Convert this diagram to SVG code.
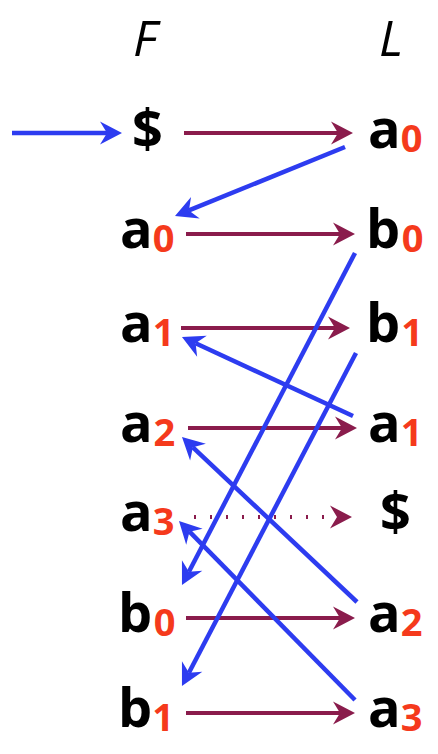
<svg xmlns="http://www.w3.org/2000/svg" width="438" height="754" viewBox="0 0 438 754">
<style>
.m{font-family:"Open Sans","Liberation Sans",sans-serif;font-weight:bold;font-size:54px;fill:#000}
.s{font-size:38px;fill:#f53a1c}
.h{font-family:"Open Sans","Liberation Sans",sans-serif;font-style:italic;font-size:50px;fill:#000}
.p{stroke:#8a1c4c;stroke-width:4;fill:none}
.b{stroke:#2d3cf0;stroke-width:4.5;fill:none}
.d{stroke-dasharray:2 14}
</style>
<defs>
<marker id="hp" markerUnits="userSpaceOnUse" viewBox="-8 -12 24 24" refX="0" refY="0" markerWidth="24" markerHeight="24" orient="auto" overflow="visible">
<path d="M15,0 L-7,-11.5 L0,0 L-7,11.5 Z" fill="#8a1c4c"/>
</marker>
<marker id="hb" markerUnits="userSpaceOnUse" viewBox="-8 -12 24 24" refX="0" refY="0" markerWidth="24" markerHeight="24" orient="auto" overflow="visible">
<path d="M15,0 L-7,-11.5 L0,0 L-7,11.5 Z" fill="#2d3cf0"/>
</marker>
</defs>
<g id="headers">
<text class="h" x="133" y="56">F</text>
<text class="h" x="379" y="56">L</text>
</g>
<g id="F0"><text class="m" x="132" y="148">$</text></g>
<g id="F1"><text class="m" x="120" y="248">a<tspan class="s" dy="4">0</tspan></text></g>
<g id="F2"><text class="m" x="120" y="342">a<tspan class="s" dy="4">1</tspan></text></g>
<g id="F3"><text class="m" x="120" y="442">a<tspan class="s" dx="0.8" dy="4">2</tspan></text></g>
<g id="F4"><text class="m" x="120" y="531">a<tspan class="s" dy="4">3</tspan></text></g>
<g id="F5"><text class="m" x="118" y="632">b<tspan class="s" dx="1.7" dy="4">0</tspan></text></g>
<g id="F6"><text class="m" x="118" y="727">b<tspan class="s" dy="4">1</tspan></text></g>
<g id="L0"><text class="m" x="368" y="148">a<tspan class="s" dy="4">0</tspan></text></g>
<g id="L1"><text class="m" x="366" y="248">b<tspan class="s" dx="1.7" dy="4">0</tspan></text></g>
<g id="L2"><text class="m" x="366" y="342">b<tspan class="s" dx="1.2" dy="4">1</tspan></text></g>
<g id="L3"><text class="m" x="368" y="442">a<tspan class="s" dy="4">1</tspan></text></g>
<g id="L4"><text class="m" x="380" y="531">$</text></g>
<g id="L5"><text class="m" x="368" y="632">a<tspan class="s" dy="4">2</tspan></text></g>
<g id="L6"><text class="m" x="368" y="727">a<tspan class="s" dy="4">3</tspan></text></g>
<g id="connectors">
<line class="b" x1="12" y1="133" x2="107" y2="133" marker-end="url(#hb)"/>
<line class="p" x1="184" y1="133" x2="338" y2="133" marker-end="url(#hp)"/>
<line class="p" x1="186" y1="234" x2="340" y2="234" marker-end="url(#hp)"/>
<line class="p" x1="181" y1="328" x2="335" y2="328" marker-end="url(#hp)"/>
<line class="p" x1="188" y1="428" x2="342" y2="428" marker-end="url(#hp)"/>
<line class="p d" x1="194" y1="517" x2="337" y2="517" marker-end="url(#hp)"/>
<line class="p" x1="186" y1="618" x2="340" y2="618" marker-end="url(#hp)"/>
<line class="p" x1="186" y1="713" x2="340" y2="713" marker-end="url(#hp)"/>
<line class="b" x1="345" y1="147" x2="188.9" y2="210.4" marker-end="url(#hb)"/>
<line class="b" x1="355" y1="253" x2="188.9" y2="571.7" marker-end="url(#hb)"/>
<line class="b" x1="356" y1="353" x2="188.9" y2="672.7" marker-end="url(#hb)"/>
<line class="b" x1="353" y1="416" x2="195.6" y2="343.3" marker-end="url(#hb)"/>
<line class="b" x1="357" y1="602" x2="192.9" y2="447.3" marker-end="url(#hb)"/>
<line class="b" x1="355" y1="700" x2="189.5" y2="531.7" marker-end="url(#hb)"/>
</g>
</svg>
